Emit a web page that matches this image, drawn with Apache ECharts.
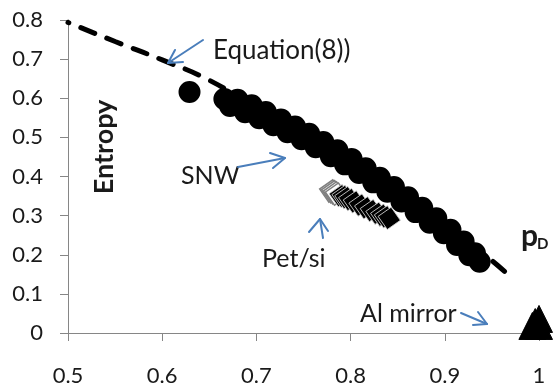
<!DOCTYPE html>
<html>
<head>
<meta charset="utf-8">
<script src="https://cdn.jsdelivr.net/npm/echarts@6/dist/echarts.min.js"></script>
<style>
html,body{margin:0;padding:0;background:#fff;}
#chart{width:554px;height:387px;}
</style>
</head>
<body>
<div id="chart"></div>
<script>
// ---- data ----
const xTicks = [0.5, 0.6, 0.7, 0.8, 0.9, 1];
const yTicks = [0, 0.1, 0.2, 0.3, 0.4, 0.5, 0.6, 0.7, 0.8];

// Equation (8) curve
const eqX = [0.5, 0.55, 0.6, 0.65, 0.7, 0.75, 0.8, 0.85, 0.9, 0.95, 0.972];
const eqY = [0.794, 0.745, 0.698, 0.646, 0.575, 0.51, 0.44, 0.36, 0.28, 0.185, 0.139];

// SNW samples
const snwX = [0.629, 0.666, 0.672, 0.680, 0.688, 0.695, 0.703, 0.710, 0.718, 0.726, 0.733, 0.741, 0.748, 0.756, 0.763, 0.771, 0.779, 0.786, 0.794, 0.801, 0.809, 0.816, 0.824, 0.831, 0.839, 0.846, 0.854, 0.861, 0.869, 0.876, 0.884, 0.891, 0.899, 0.906, 0.913, 0.920, 0.926, 0.932, 0.937,
              0.676, 0.691, 0.707, 0.722, 0.737, 0.752, 0.767, 0.782, 0.798, 0.813, 0.828, 0.843, 0.858, 0.873, 0.888, 0.903, 0.917, 0.929];
const snwY = [0.616, 0.598, 0.580, 0.596, 0.564, 0.582, 0.549, 0.565, 0.531, 0.546, 0.513, 0.528, 0.495, 0.509, 0.475, 0.488, 0.452, 0.467, 0.431, 0.445, 0.409, 0.421, 0.385, 0.397, 0.361, 0.373, 0.336, 0.347, 0.309, 0.320, 0.282, 0.293, 0.255, 0.264, 0.225, 0.234, 0.199, 0.204, 0.182,
              0.588, 0.574, 0.557, 0.539, 0.521, 0.502, 0.481, 0.460, 0.438, 0.414, 0.390, 0.366, 0.341, 0.314, 0.287, 0.259, 0.228, 0.202];

// Pet/si samples
const petLightX = [0.779, 0.781, 0.783, 0.785];
const petLightY = [0.363, 0.361, 0.358, 0.355];
const petDarkX = [0.789, 0.792, 0.795, 0.799, 0.804, 0.810, 0.816, 0.822, 0.828, 0.833, 0.837, 0.841];
const petDarkY = [0.351, 0.349, 0.346, 0.341, 0.335, 0.327, 0.320, 0.313, 0.306, 0.301, 0.297, 0.293];

// Al mirror samples
const alX = [0.993, 0.996, 1.0, 1.0];
const alY = [0.018, 0.028, 0.036, 0.018];

const zip = (xs, ys) => xs.map((x, i) => [x, ys[i]]);

const chart = echarts.init(document.getElementById('chart'), null, {renderer: 'canvas'});
const txt = '#1a1a1a';
const arrowColor = '#4a7ebb';
const font = 'Lato';

function arrow(pts) {
  return {
    type: 'polyline', silent: true, z: 100,
    shape: {points: pts},
    style: {stroke: arrowColor, lineWidth: 2, fill: null, lineJoin: 'round', lineCap: 'round'}
  };
}
function label(text, x, y, size, weight) {
  return {
    type: 'text', x: x, y: y, z: 100, silent: true,
    style: {text: text, fill: txt, font: (weight || 'normal') + ' ' + size + 'px ' + font, align: 'left', verticalAlign: 'middle'}
  };
}

chart.setOption({
  animation: false,
  backgroundColor: '#fff',
  grid: {left: 68, right: 15, top: 20, bottom: 54, outerBoundsMode: 'none', containLabel: false},
  xAxis: {
    type: 'value', min: xTicks[0], max: xTicks[xTicks.length - 1], interval: 0.1,
    axisLine: {show: true, lineStyle: {color: '#868686', width: 1}},
    axisTick: {show: true, length: 8, lineStyle: {color: '#868686'}},
    splitLine: {show: false},
    axisLabel: {color: txt, fontFamily: font, fontSize: 22, margin: 32,
      formatter: v => String(parseFloat(v.toFixed(2)))}
  },
  yAxis: {
    type: 'value', min: yTicks[0], max: yTicks[yTicks.length - 1], interval: 0.1,
    axisLine: {show: true, lineStyle: {color: '#868686', width: 1}},
    axisTick: {show: true, length: 8, lineStyle: {color: '#868686'}},
    splitLine: {show: false},
    axisLabel: {color: txt, fontFamily: font, fontSize: 22, margin: 25,
      formatter: v => String(parseFloat(v.toFixed(2)))}
  },
  series: [
    {
      type: 'line', data: zip(eqX, eqY), smooth: true, symbol: 'none', clip: false,
      lineStyle: {color: '#000', width: 5, type: [15, 13], dashOffset: 14, cap: 'round', opacity: 1},
      z: 2
    },
    {
      type: 'scatter', data: zip(snwX, snwY), symbol: 'circle', symbolSize: 18, clip: false,
      itemStyle: {color: '#000', borderColor: '#000', borderWidth: 4, opacity: 1},
      emphasis: {disabled: true}, z: 3
    },
    {
      type: 'scatter', data: zip(petLightX, petLightY), symbol: 'rect', symbolSize: 16, symbolRotate: 35, clip: false,
      itemStyle: {color: '#fff', borderColor: '#7f7f7f', borderWidth: 1.5, opacity: 1}, emphasis: {disabled: true}, z: 4
    },
    {
      type: 'scatter', data: zip(petDarkX, petDarkY), symbol: 'rect', symbolSize: 16, symbolRotate: 35, clip: false,
      itemStyle: {color: '#000', borderColor: '#d0d0d0', borderWidth: 0.8, opacity: 1}, emphasis: {disabled: true}, z: 4
    },
    {
      type: 'scatter', data: zip(alX, alY), symbol: 'triangle', symbolSize: 27, clip: false,
      itemStyle: {color: '#000', borderColor: '#000', borderWidth: 1, opacity: 1},
      emphasis: {disabled: true}, z: 5
    }
  ],
  graphic: [
    label('Equation(8))', 213, 50.5, 26),
    arrow([[203, 40], [168, 63]]),
    arrow([[183, 62], [168, 63], [175, 50]]),
    label('SNW', 181, 175.5, 25),
    arrow([[238, 167], [285, 158]]),
    arrow([[270, 153], [285, 158], [273, 168]]),
    label('Pet/si', 262, 258.5, 25),
    arrow([[323, 238], [320, 219]]),
    arrow([[309, 232], [320, 219], [328, 231]]),
    label('Al mirror', 360, 313.5, 25),
    arrow([[461, 313], [487, 324]]),
    arrow([[478, 312], [487, 324], [473, 325]]),
    label('p', 521, 236, 30, 'bold'),
    label('D', 537, 244.5, 15, 'bold'),
    {
      type: 'text', x: 104, y: 147, rotation: Math.PI / 2, z: 100, silent: true,
      style: {text: 'Entropy', fill: txt, font: 'bold 27px ' + font, align: 'center', verticalAlign: 'middle'}
    }
  ]
});
</script>
</body>
</html>
